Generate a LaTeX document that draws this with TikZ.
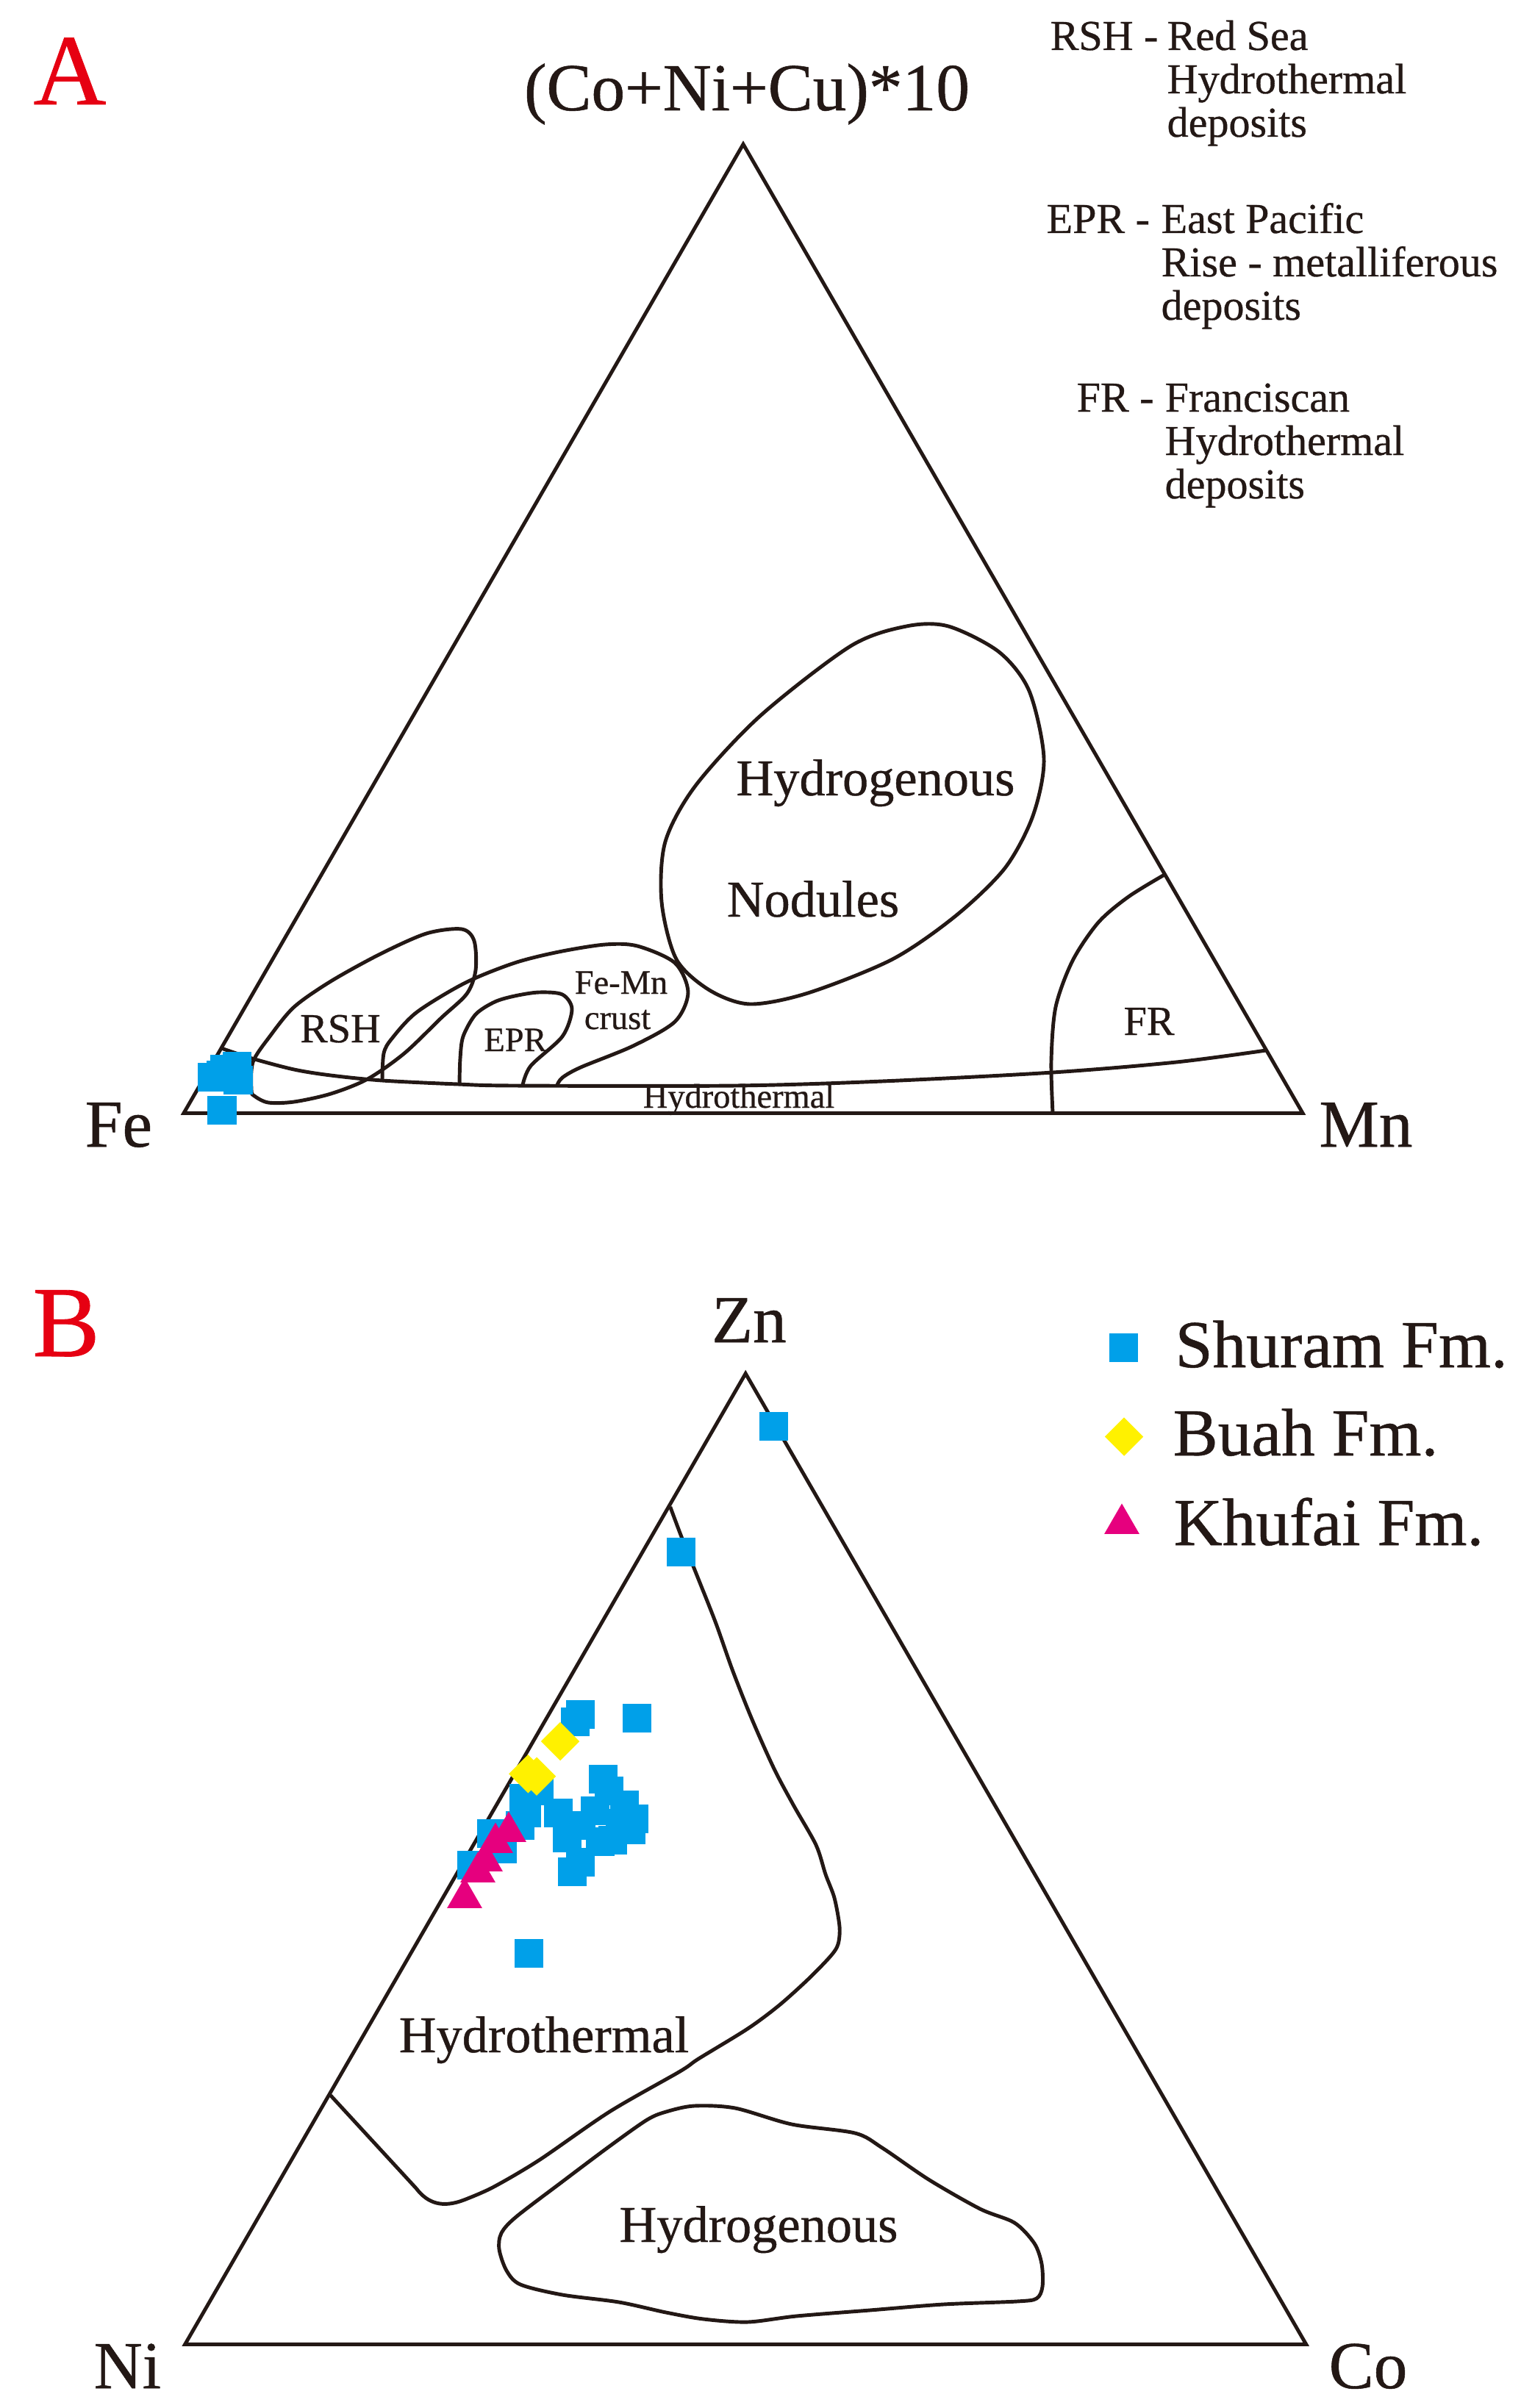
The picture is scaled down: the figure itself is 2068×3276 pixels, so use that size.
\documentclass[tikz,border=0pt]{standalone}
\usepackage{fontspec}
\setmainfont{Liberation Serif}[UprightFeatures={FakeBold=0.6}]
\usetikzlibrary{shapes.geometric}
\definecolor{inkc}{RGB}{35,24,21}
\definecolor{panelred}{RGB}{230,0,18}
\definecolor{shuramc}{RGB}{0,160,233}
\definecolor{buahc}{RGB}{255,241,0}
\definecolor{khufaic}{RGB}{230,0,126}
\begin{document}
\begin{tikzpicture}[x=0.01cm,y=-0.01cm,
  frame/.style={line width=1.4pt,draw=inkc,line join=miter},
  field/.style={line width=1.4pt,draw=inkc},
  corner/.style={font=\fontsize{26}{30}\selectfont,text=inkc,inner sep=0pt,anchor=base},
  panel/.style={font=\fontsize{39}{44}\selectfont,text=panelred,inner sep=0pt,anchor=base},
  note/.style={font=\fontsize{16.5}{18}\selectfont,text=inkc,inner sep=0pt,anchor=base west},
  bigfield/.style={font=\fontsize{20}{24}\selectfont,text=inkc,inner sep=0pt,anchor=base},
  midfield/.style={font=\fontsize{16}{19}\selectfont,text=inkc,inner sep=0pt,anchor=base},
  smallfield/.style={font=\fontsize{13.2}{16}\selectfont,text=inkc,inner sep=0pt,anchor=base},
  shuram/.style={rectangle,fill=shuramc,minimum size=0.39cm,inner sep=0pt},
  buah/.style={diamond,fill=buahc,minimum size=0.53cm,inner sep=0pt},
  khufai/.style={regular polygon,regular polygon sides=3,fill=khufaic,minimum size=0.55cm,inner sep=0pt}]

\useasboundingbox (0,0) rectangle (2068,3276);

\node[panel] (labA) at (95,142) {A};
\node[corner] (apexA) at (1016,150) {(Co+Ni+Cu)*10};
\node[corner,anchor=base west] (fe) at (115,1560) {Fe};
\node[corner] (mn) at (1858,1560) {Mn};

\coordinate (feA) at (250,1514.3);
\coordinate (mnA) at (1772,1514.3);
\coordinate (topA) at (1011,196.2);
\draw[frame] (feA) -- (topA) -- (mnA) -- cycle;

\draw[field] plot[smooth cycle] coordinates {(342,1483) (344,1445) (367,1410) (400,1370) (450,1335) (517,1298) (580,1270) (628,1264) (645,1280) (647,1320) (635,1352) (600,1385) (550,1433) (500,1468) (450,1488) (400,1499) (365,1500) (346,1491)};
\draw[field] plot[smooth] coordinates {(301,1426) (343,1440) (400,1455) (450,1463) (520,1470) (623,1475) (700,1477) (1000,1477) (1200,1471) (1432,1459) (1600,1445) (1722,1429)};
\draw[field] plot[smooth] coordinates {(520,1469) (522,1433) (533,1413) (567,1377) (633,1337) (700,1310) (760,1295) (823,1285) (867,1287) (918,1310) (936,1350) (918,1390) (861,1423) (790,1452) (765,1466) (758,1476)};
\draw[field] plot[smooth] coordinates {(625,1475) (626,1440) (630,1410) (647,1380) (673,1363) (700,1355) (733,1350) (765,1353) (778,1373) (765,1410) (722,1450) (711,1476)};
\draw[field] plot[smooth cycle] coordinates {(1233,852) (1290,852) (1359,887) (1400,940) (1420,1032) (1405,1110) (1367,1181) (1300,1246) (1214,1305) (1099,1351) (1020,1366) (965,1347) (920,1305) (900,1227) (905,1145) (946,1069) (1034,974) (1157,879)};
\draw[field] plot[smooth] coordinates {(1432,1514) (1430,1443) (1436,1370) (1459,1307) (1494,1255) (1535,1220) (1584,1190)};

\node[bigfield] (hydA) at (1191,1082) {Hydrogenous};
\node[bigfield] (nodA) at (1106,1247) {Nodules};
\node[midfield] (rsh) at (463,1418) {RSH};
\node[smallfield] (femn) at (845,1352) {Fe-Mn};
\node[smallfield] (crust) at (840,1400) {crust};
\node[smallfield] (epr) at (701,1430) {EPR};
\node[midfield] (fr) at (1563,1408) {FR};
\node[smallfield] (hthA) at (1005,1507) {Hydrothermal};

\foreach \ab/\ax/\la/\lb/\lc/\tx/\ty [count=\i] in {RSH -/1428/Red Sea/Hydrothermal/deposits/1587/68, EPR -/1423/East Pacific/Rise - metalliferous/deposits/1579/317, FR -/1464/Franciscan/Hydrothermal/deposits/1584/560}
{
  \node[note] (key\i) at (\ax,\ty) {\ab};
  \node[note] (keya\i) at (\tx,\ty) {\la};
  \node[note] (keyb\i) at (\tx,\ty+59) {\lb};
  \node[note] (keyc\i) at (\tx,\ty+118) {\lc};
}

\foreach \x/\y [count=\i] in {322.5/1450, 305.5/1454, 288.5/1465.5, 324/1469, 301/1462, 302/1510}
  \node[shuram] (sa\i) at (\x,\y) {};

\node[panel] (labB) at (90,1845) {B};
\node[corner] (zn) at (1019,1826) {Zn};
\node[corner,anchor=base west] (ni) at (127,3249) {Ni};
\node[corner,anchor=base west] (co) at (1807,3249) {Co};

\coordinate (niB) at (251.7,3189.3);
\coordinate (coB) at (1776.7,3189.3);
\coordinate (topB) at (1014.2,1868.6);
\draw[frame] (niB) -- (topB) -- (coB) -- cycle;

\draw[field] plot[smooth] coordinates {(911.7,2050) (926.7,2090) (946.7,2140) (973.3,2207) (996.7,2273) (1023.3,2340) (1053.3,2407) (1080,2457) (1110,2510) (1123,2550) (1135,2582) (1142,2621) (1140,2645) (1130,2661) (1100,2692) (1060,2728) (1017,2760) (950,2801) (925,2818) (829,2873) (733,2939) (670,2976) (631,2993)} .. controls (602,3004) and (582,2998) .. (566,2977) -- (449.6,2850.6);
\draw[field] plot[smooth cycle] coordinates {(1000,2868) (944,2865) (906,2873) (880,2884) (829,2920) (765,2968) (702,3016) (682,3038) (679,3060) (689,3089) (708,3108) (765,3122) (842,3132) (906,3146) (957,3155) (1017,3159) (1083,3151) (1183,3143) (1283,3135) (1383,3131) (1410,3127) (1418,3111) (1417,3080) (1407,3052) (1380,3024) (1333,3005) (1263,2965) (1200,2922) (1163,2902) (1077,2890)};

\node[bigfield] (hthB) at (740,2792) {Hydrothermal};
\node[bigfield] (hydB) at (1032,3050) {Hydrogenous};

\foreach \x/\y [count=\i] in {1052/1940, 926/2111.7, 866.3/2337.3, 789.7/2332.7, 782/2342.7, 820.3/2420.7, 828/2436.3, 849.3/2455.3, 862/2474, 858.3/2489.7, 759.3/2466.3, 809.7/2463, 771.7/2500, 816.7/2505.7, 778/2546.3, 789.7/2533.7, 833.3/2503.3, 790/2483.3, 843.3/2480, 713/2446.7, 733.3/2436.7, 707.3/2483.3, 669/2494, 683.3/2515.7, 642/2537.3, 716.7/2466.7, 719.3/2657.3}
  \node[shuram] (sb\i) at (\x,\y) {};
\foreach \x/\y [count=\i] in {762/2369, 718.3/2413.3, 730/2416.7}
  \node[buah] (bb\i) at (\x,\y) {};
\foreach \x/\y [count=\i] in {692/2492, 674/2507, 660/2532, 650/2547, 632/2582}
  \node[khufai] (kb\i) at (\x,\y) {};

\node[shuram] (kshu) at (1528,1833) {};
\node[corner,anchor=base west] (tshu) at (1598,1860) {Shuram Fm.};
\node[buah] (kbua) at (1529,1954.5) {};
\node[corner,anchor=base west] (tbua) at (1595,1980) {Buah Fm.};
\node[khufai] (kkhu) at (1526,2073) {};
\node[corner,anchor=base west] (tkhu) at (1596,2102) {Khufai Fm.};
\end{tikzpicture}
\end{document}
